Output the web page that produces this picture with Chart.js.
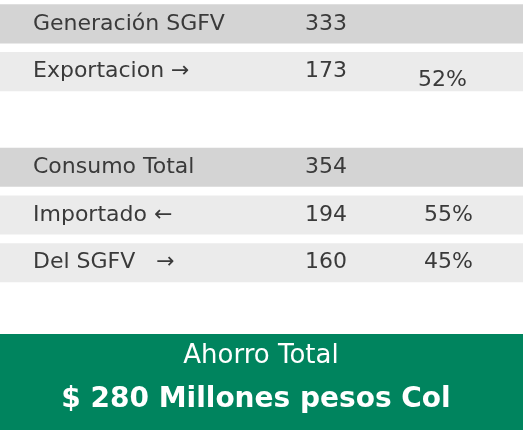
<!DOCTYPE html>
<html><head><meta charset="utf-8">
<script src="https://cdn.jsdelivr.net/npm/chart.js@4"></script>
<style>body{margin:0;background:#fff}</style>
</head><body>
<canvas id="c" width="523" height="430"></canvas>
<script>
// table rows (blank slots are spacing)
const rowLabels = ['Generación SGFV', 'Exportacion \u2192', '', 'Consumo Total', 'Importado \u2190', 'Del SGFV   \u2192', '', '', ''];
const rowValues = ['333', '173', '', '354', '194', '160', '', '', ''];
const rowShares = ['', '52%', '', '', '55%', '45%', '', '', ''];
const rowColors = ['#d4d4d4', '#ebebeb', null, '#d4d4d4', '#ebebeb', '#ebebeb', null, '#00845e', '#00845e'];
const totalLines = ['Ahorro Total', '$ 280 Millones pesos Col'];

const slots = rowLabels.map((_, i) => 'r' + i);
const rowBars = rowColors.map((c, i) => (c && i < 7) ? [0, 1] : null);
const boxBars = rowColors.map((c, i) => i >= 7 ? [0, 1] : null);

const textPlugin = {
  id: 'tableText',
  afterDatasetsDraw(chart) {
    const g = chart.ctx, y = chart.scales.y;
    g.save();
    g.fillStyle = '#3a3a3a';
    g.font = '22px "DejaVu Sans"';
    g.textBaseline = 'middle';
    rowLabels.forEach((t, i) => {
      const py = y.getPixelForValue(i);
      g.textAlign = 'left';
      if (t) g.fillText(t, 33, py);
      if (rowValues[i]) g.fillText(rowValues[i], 305, py);
      if (rowShares[i]) g.fillText(rowShares[i], i === 1 ? 418 : 424, py + (i === 1 ? 9 : 0));
    });
    const top = y.getPixelForValue(7), bot = y.getPixelForValue(8);
    g.fillStyle = '#fff';
    g.textAlign = 'center';
    g.font = '26px "DejaVu Sans"';
    g.fillText(totalLines[0], 261, top - 2);
    g.font = 'bold 28px "DejaVu Sans"';
    g.fillText(totalLines[1], 256, bot - 6);
    g.restore();
  }
};

new Chart(document.getElementById('c'), {
  type: 'bar',
  data: {
    labels: slots,
    datasets: [
      { data: rowBars, backgroundColor: rowColors, barPercentage: 0.82, categoryPercentage: 1 },
      { data: boxBars, backgroundColor: '#00845e', barPercentage: 1, categoryPercentage: 1, borderWidth: 0 }
    ]
  },
  options: {
    indexAxis: 'y',
    responsive: false,
    animation: false,
    layout: { padding: 0 },
    plugins: { legend: { display: false }, tooltip: { enabled: false } },
    datasets: { bar: { grouped: false } },
    scales: {
      x: { display: false, min: 0, max: 1 },
      y: { display: false, offset: true }
    }
  },
  plugins: [textPlugin]
});
</script>
</body></html>
